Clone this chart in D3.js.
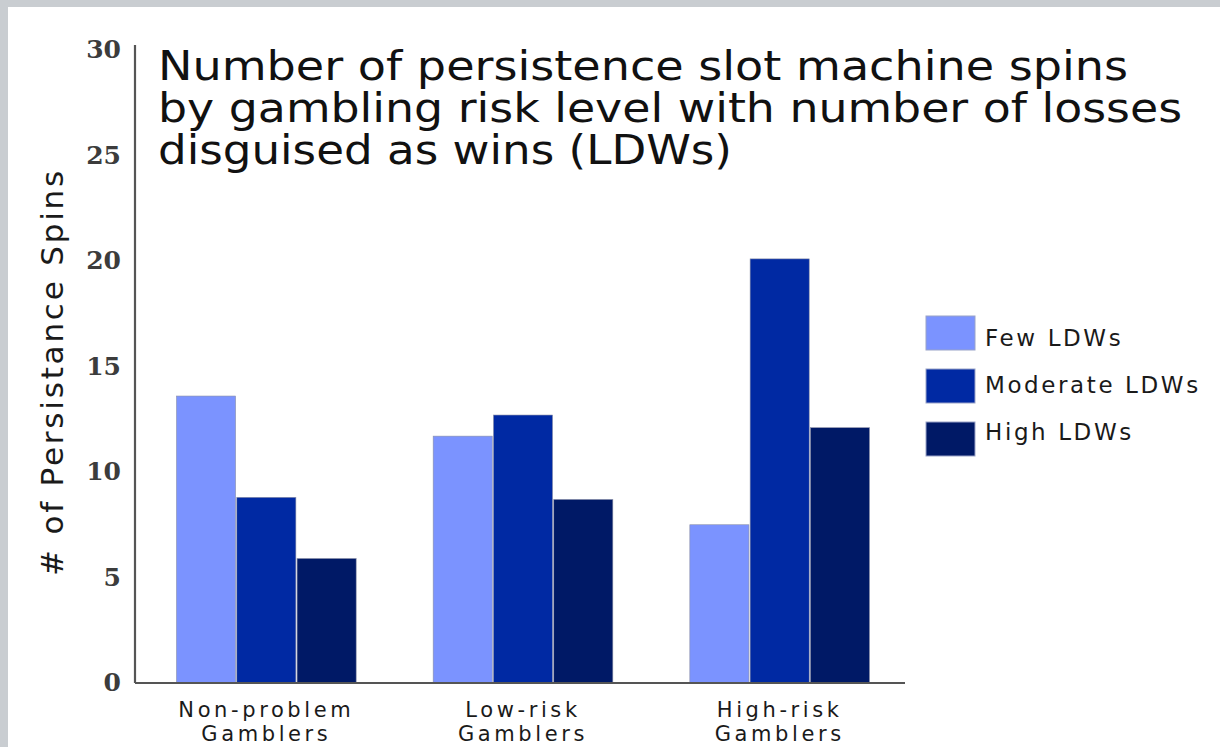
<!DOCTYPE html>
<html>
<head>
<meta charset="utf-8">
<script src="https://cdn.jsdelivr.net/npm/d3@7"></script>
<style>
  body { margin: 0; background: #c9cdd1; }
  svg { display: block; }
</style>
</head>
<body>
<div id="chart"></div>
<script>
// data
var groups = ["Non-problem Gamblers", "Low-risk Gamblers", "High-risk Gamblers"];
var groupLines = [["Non-problem", "Gamblers"], ["Low-risk", "Gamblers"], ["High-risk", "Gamblers"]];
var series = ["Few LDWs", "Moderate LDWs", "High LDWs"];
var fewVals = [13.6, 11.7, 7.5];
var moderateVals = [8.8, 12.7, 20.1];
var highVals = [5.9, 8.7, 12.1];
var yTicks = [0, 5, 10, 15, 20, 25, 30];
var colors = ["#7b93ff", "#0029a3", "#001966"];
var titleLines = [
    "Number of persistence slot machine spins",
    "by gambling risk level with number of losses",
    "disguised as wins (LDWs)"
];
var titleWidths = [970, 1024, 574];

var W = 1220, H = 747;
var svg = d3.select("#chart").append("svg")
    .attr("width", W)
    .attr("height", H);

// white panel over the grey frame
svg.append("rect")
    .attr("x", 8).attr("y", 7)
    .attr("width", W - 8).attr("height", H - 7)
    .attr("fill", "#fff");

var left = 135, right = 905, bottom = 683;

var y = d3.scaleLinear()
    .domain([0, 30])
    .range([bottom, bottom - 30 * 21.1]);

var x0 = d3.scaleBand()
    .domain(groups)
    .range([138, 908])
    .paddingInner(0.3)
    .paddingOuter(0.15);

var x1 = d3.scaleBand()
    .domain(series)
    .range([0, x0.bandwidth()])
    .paddingInner(0.02);

var rows = groups.map(function(g, i) {
    return { group: g, values: [fewVals[i], moderateVals[i], highVals[i]] };
});

// bars
var g = svg.selectAll(".grp")
    .data(rows)
    .enter().append("g")
    .attr("class", "grp")
    .attr("transform", function(d) { return "translate(" + x0(d.group) + ",0)"; });

g.selectAll("rect")
    .data(function(d) { return d.values.map(function(v, j) { return { s: series[j], v: v, c: colors[j] }; }); })
    .enter().append("rect")
    .attr("x", function(d) { return x1(d.s); })
    .attr("y", function(d) { return y(d.v); })
    .attr("width", x1.bandwidth())
    .attr("height", function(d) { return bottom - y(d.v); })
    .attr("fill", function(d) { return d.c; })
    .attr("stroke", "#8a8fa8")
    .attr("stroke-width", 0.6);

// y axis
var yAxis = d3.axisLeft(y)
    .tickValues(yTicks)
    .tickSize(0)
    .tickPadding(14);

var ya = svg.append("g")
    .attr("transform", "translate(" + left + ",0)")
    .call(yAxis);
ya.select(".domain").remove();
ya.selectAll("text")
    .attr("font-family", "DejaVu Serif")
    .attr("font-weight", "bold")
    .attr("font-size", 25)
    .attr("fill", "#3c3c3c")
    .attr("dy", "0.3em");

svg.append("line")
    .attr("x1", left).attr("x2", left)
    .attr("y1", y(30) - 5).attr("y2", bottom)
    .attr("stroke", "#555").attr("stroke-width", 2.2);

svg.append("line")
    .attr("x1", left).attr("x2", right)
    .attr("y1", bottom).attr("y2", bottom)
    .attr("stroke", "#555").attr("stroke-width", 2.2);

// x labels
var xl = svg.selectAll(".xlab")
    .data(groups)
    .enter().append("text")
    .attr("class", "xlab")
    .attr("text-anchor", "middle")
    .attr("font-family", "DejaVu Sans")
    .attr("font-size", 21)
    .attr("letter-spacing", 3.6)
    .attr("fill", "#1a1a1a");

xl.each(function(d, i) {
    var cx = x0(d) + x0.bandwidth() / 2;
    d3.select(this).selectAll("tspan")
        .data(groupLines[i])
        .enter().append("tspan")
        .attr("x", cx)
        .attr("y", function(t, k) { return 717 + k * 24; })
        .text(function(t) { return t; });
});

// y title
svg.append("text")
    .attr("transform", "translate(63,372) rotate(-90)")
    .attr("text-anchor", "middle")
    .attr("font-family", "DejaVu Sans")
    .attr("font-size", 31)
    .attr("letter-spacing", 2.8)
    .attr("fill", "#1a1a1a")
    .text("# of Persistance Spins");

// title
svg.selectAll(".title")
    .data(titleLines)
    .enter().append("text")
    .attr("class", "title")
    .attr("x", 158)
    .attr("y", function(d, i) { return 80 + i * 42; })
    .attr("font-family", "DejaVu Sans")
    .attr("font-size", 40)
    .attr("fill", "#111")
    .attr("textLength", function(d, i) { return titleWidths[i]; })
    .attr("lengthAdjust", "spacingAndGlyphs")
    .text(function(d) { return d; });

// legend
var leg = svg.selectAll(".leg")
    .data(series)
    .enter().append("g")
    .attr("class", "leg");

leg.append("rect")
    .attr("x", 926)
    .attr("y", function(d, i) { return 316 + i * 53; })
    .attr("width", 49).attr("height", 34)
    .attr("fill", function(d, i) { return colors[i]; })
    .attr("stroke", "#9aa3c8").attr("stroke-width", 1);

leg.append("text")
    .attr("x", 985)
    .attr("y", function(d, i) { return 346 + i * 47; })
    .attr("font-family", "DejaVu Sans")
    .attr("font-size", 23)
    .attr("letter-spacing", 2.6)
    .attr("fill", "#1a1a1a")
    .text(function(d) { return d; });
</script>
</body>
</html>
